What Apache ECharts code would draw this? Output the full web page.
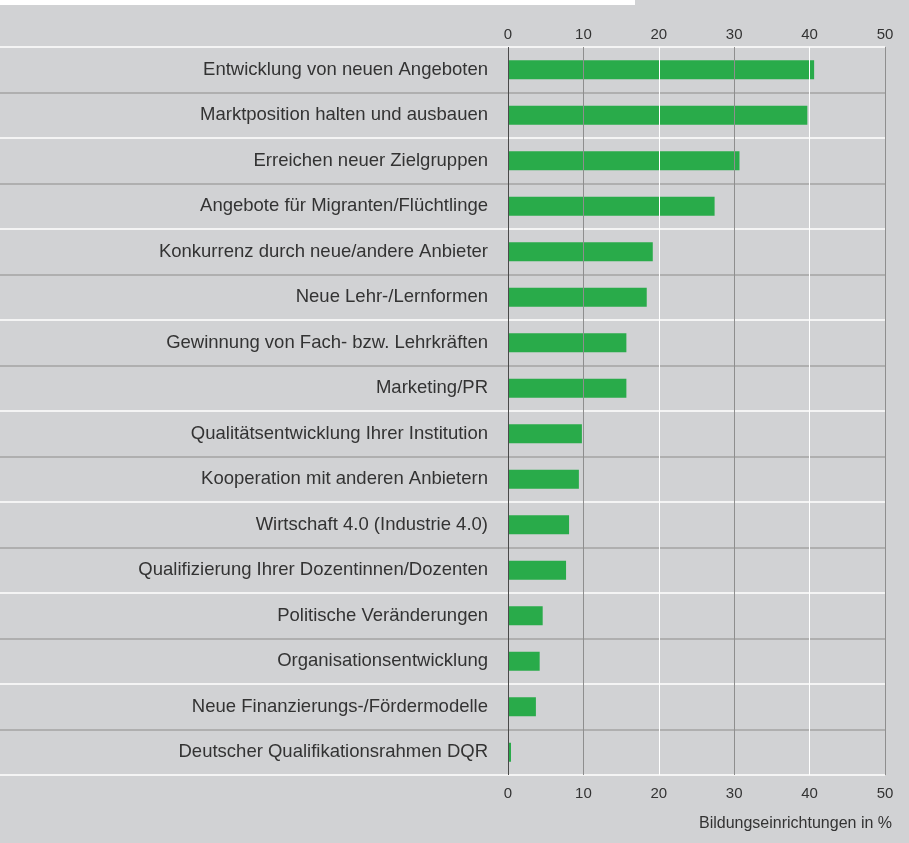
<!DOCTYPE html>
<html>
<head>
<meta charset="utf-8">
<script src="https://cdn.jsdelivr.net/npm/echarts@6/dist/echarts.min.js"></script>
<style>
html,body{margin:0;padding:0;background:#d1d2d4;}
#chart{width:909px;height:843px;}
</style>
</head>
<body>
<div id="chart"></div>
<script>
const categories = [
  "Entwicklung von neuen Angeboten",
  "Marktposition halten und ausbauen",
  "Erreichen neuer Zielgruppen",
  "Angebote für Migranten/Flüchtlinge",
  "Konkurrenz durch neue/andere Anbieter",
  "Neue Lehr-/Lernformen",
  "Gewinnung von Fach- bzw. Lehrkräften",
  "Marketing/PR",
  "Qualitätsentwicklung Ihrer Institution",
  "Kooperation mit anderen Anbietern",
  "Wirtschaft 4.0 (Industrie 4.0)",
  "Qualifizierung Ihrer Dozentinnen/Dozenten",
  "Politische Veränderungen",
  "Organisationsentwicklung",
  "Neue Finanzierungs-/Fördermodelle",
  "Deutscher Qualifikationsrahmen DQR"
];
const values = [40.6, 39.7, 30.7, 27.4, 19.2, 18.4, 15.7, 15.7, 9.8, 9.4, 8.1, 7.7, 4.6, 4.2, 3.7, 0.4];
const axisTitle = "Bildungseinrichtungen in %";

const FONT = "Liberation Sans, Arial, sans-serif";
const chart = echarts.init(document.getElementById('chart'), null, {renderer: 'canvas'});
const vColors = ['#4a4a4a', '#8e8e8e', '#ffffff', '#8e8e8e', '#ffffff', '#8e8e8e'];

chart.setOption({
  backgroundColor: '#d1d2d4',
  animation: false,
  textStyle: {fontFamily: FONT},
  title: {
    text: axisTitle,
    right: 17,
    top: 816,
    padding: 0,
    textStyle: {fontFamily: FONT, fontSize: 16, fontWeight: 'normal', color: '#333'}
  },
  graphic: [{
    type: 'rect',
    left: 0, top: 0,
    shape: {width: 635, height: 5},
    style: {fill: '#ffffff'},
    z: -1
  }],
  grid: [
    {left: 508, right: 24, top: 47, bottom: 68, containLabel: false},
    {left: 0, right: 24, top: 47, bottom: 68, containLabel: false}
  ],
  xAxis: [
    {
      type: 'value', gridIndex: 0, position: 'top', min: 0, max: 50, interval: 10, z: 5,
      axisLine: {show: false}, axisTick: {show: false},
      axisLabel: {fontFamily: FONT, fontSize: 15, color: '#333', margin: 5},
      splitLine: {show: true, lineStyle: {color: vColors, width: 1}}
    },
    {
      type: 'value', gridIndex: 0, position: 'bottom', min: 0, max: 50, interval: 10, z: 5,
      axisLine: {show: false}, axisTick: {show: false},
      axisLabel: {fontFamily: FONT, fontSize: 15, color: '#333', margin: 11},
      splitLine: {show: false}
    },
    {
      type: 'value', gridIndex: 1, min: 0, max: 1, show: false
    }
  ],
  yAxis: [
    {
      type: 'category', gridIndex: 0, data: categories, inverse: true,
      axisLine: {show: false}, axisTick: {show: false},
      axisLabel: {fontFamily: FONT, fontSize: 18.5, color: '#333', margin: 20},
      splitLine: {show: false}
    },
    {
      type: 'category', gridIndex: 1, data: categories, inverse: true, z: 0,
      axisLine: {show: false}, axisTick: {show: false}, axisLabel: {show: false},
      splitLine: {show: true, lineStyle: {color: ['#ffffff', '#a3a3a3'], width: 1.5}}
    }
  ],
  series: [
    {
      type: 'bar', xAxisIndex: 0, yAxisIndex: 0,
      data: values, barWidth: 19,
      itemStyle: {color: '#29ab4a'},
      z: 2
    },
    {
      type: 'bar', xAxisIndex: 2, yAxisIndex: 1,
      data: categories.map(() => null), silent: true
    }
  ]
});
</script>
</body>
</html>
